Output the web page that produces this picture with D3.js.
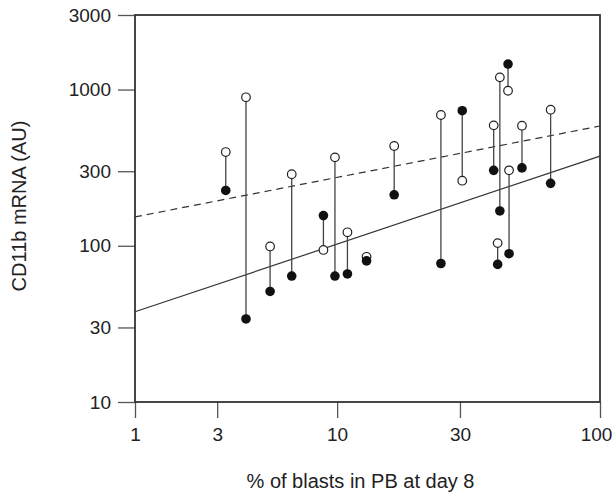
<!DOCTYPE html>
<html>
<head>
<meta charset="utf-8">
<script src="https://cdn.jsdelivr.net/npm/d3@7"></script>
<style>
  body { margin: 0; background: #fff; }
  text { font-family: "Liberation Sans", Arial, Helvetica, sans-serif; fill: #222; }
</style>
</head>
<body>
<svg id="chart" width="613" height="494"></svg>
<script>
// % blasts in PB at day 8, one entry per patient
const blastPct = [3.3, 4.1, 5.25, 6.5, 8.8, 9.8, 11.0, 13.1, 16.8, 25.4, 30.6, 40.2, 41.6, 42.4, 45.5, 45.9, 51.3, 65.6];
// CD11b mRNA (AU), open circles
const openVals = [398, 892, 99, 287, 94, 368, 122, 85, 435, 687, 261, 590, 104, 1197, 982, 304, 587, 743];
// CD11b mRNA (AU), filled circles
const filledVals = [226, 34, 51, 64, 156, 64, 66, 80, 212, 77, 732, 304, 76, 167, 1456, 89, 315, 251];
// regression lines, end points [x, y]
const solidFit = [[1, 37.8], [100, 375]];
const dashedFit = [[1, 153], [100, 584]];
const xTicks = [1, 3, 10, 30, 100];
const yTicks = [10, 30, 100, 300, 1000, 3000];

const svg = d3.select('#chart');
const mLeft = 135, mRight = 600, mTop = 15, mBottom = 402;

// x axis is log(x + 1)
const x = d3.scaleSymlog().constant(1).domain([1, 100]).range([mLeft, mRight]);
const y = d3.scaleLog().domain([10, 3000]).range([mBottom, mTop]);

const yAxis = d3.axisLeft(y).tickValues(yTicks).tickFormat(d3.format('d'))
  .tickSize(17).tickPadding(7);
const xAxis = d3.axisBottom(x).tickValues(xTicks).tickFormat(d3.format('d'))
  .tickSize(16).tickPadding(10);

const gy = svg.append('g').attr('transform', `translate(${mLeft},0)`).call(yAxis);
const gx = svg.append('g').attr('transform', `translate(0,${mBottom})`).call(xAxis);
[gx, gy].forEach((g) => {
  g.select('.domain').remove();
  g.selectAll('.tick line').attr('stroke', '#555').attr('stroke-width', 1.3);
  g.selectAll('.tick text').style('font-size', '19px').attr('fill', '#222');
});
// last label sits against the page edge
gx.selectAll('.tick text').filter(d => d === 100).attr('dx', -4);

// frame
svg.append('rect')
  .attr('x', mLeft).attr('y', mTop)
  .attr('width', mRight - mLeft).attr('height', mBottom - mTop)
  .attr('fill', 'none').attr('stroke', '#333').attr('stroke-width', 1.8);

// fit lines
const line = d3.line().x(d => x(d[0])).y(d => y(d[1]));
svg.append('path').attr('d', line(dashedFit))
  .attr('fill', 'none').attr('stroke', '#333').attr('stroke-width', 1.2)
  .attr('stroke-dasharray', '7,5');
svg.append('path').attr('d', line(solidFit))
  .attr('fill', 'none').attr('stroke', '#333').attr('stroke-width', 1.2);

const pts = blastPct.map((b, i) => ({ b, o: openVals[i], f: filledVals[i] }));

svg.append('g').selectAll('line').data(pts).enter().append('line')
  .attr('x1', d => x(d.b)).attr('x2', d => x(d.b))
  .attr('y1', d => y(d.o)).attr('y2', d => y(d.f))
  .attr('stroke', '#444').attr('stroke-width', 1.3);

svg.append('g').selectAll('circle').data(pts).enter().append('circle')
  .attr('cx', d => x(d.b)).attr('cy', d => y(d.o)).attr('r', 4.3)
  .attr('fill', '#fff').attr('stroke', '#222').attr('stroke-width', 1.2);

svg.append('g').selectAll('circle').data(pts).enter().append('circle')
  .attr('cx', d => x(d.b)).attr('cy', d => y(d.f)).attr('r', 4.8)
  .attr('fill', '#111');

// axis titles
svg.append('text')
  .attr('x', (mLeft + mRight) / 2 - 7).attr('y', 488)
  .attr('text-anchor', 'middle').style('font-size', '20px')
  .text('% of blasts in PB at day 8');
svg.append('text')
  .attr('transform', 'translate(26,206) rotate(-90)')
  .attr('text-anchor', 'middle').style('font-size', '20px')
  .text('CD11b mRNA (AU)');
</script>
</body>
</html>
